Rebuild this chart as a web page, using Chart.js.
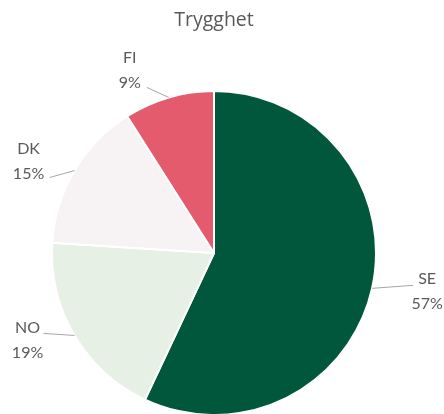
<!DOCTYPE html>
<html><head><meta charset="utf-8">
<script src="https://cdn.jsdelivr.net/npm/chart.js@4"></script>
<style>html,body{margin:0;padding:0;background:#fff}#wrap{width:444px;height:414px}</style>
</head><body><div id="wrap"><canvas id="c" width="444" height="414"></canvas></div>
<script>
const categories = ['SE', 'NO', 'DK', 'FI'];
const values = [57, 19, 15, 9];
const percentLabels = ['57%', '19%', '15%', '9%'];
const sliceColors = ['#00573b', '#e7f0e5', '#f7f2f4', '#e35b6d'];

// label placement relative to the arc mid point (styling, not data)
const labelOffsets = [
  {text: [55, -4], lead: [41, -3]},
  {text: [-47, -2], lead: [-31, -2]},
  {text: [-46, -17], lead: [-25, 7]},
  {text: [-39, -34], lead: [-22, -10]}
];

const outsideLabels = {
  id: 'outsideLabels',
  afterDatasetsDraw(chart) {
    const ctx = chart.ctx;
    const meta = chart.getDatasetMeta(0);
    ctx.save();
    meta.data.forEach((arc, i) => {
      const p = arc.getProps(['x', 'y', 'startAngle', 'endAngle', 'outerRadius'], true);
      const mid = (p.startAngle + p.endAngle) / 2;
      const px = p.x + Math.cos(mid) * p.outerRadius;
      const py = p.y + Math.sin(mid) * p.outerRadius;
      const o = labelOffsets[i];
      ctx.strokeStyle = '#a6a6a6';
      ctx.lineWidth = 1;
      ctx.beginPath();
      ctx.moveTo(px, py);
      ctx.lineTo(px + o.lead[0], py + o.lead[1]);
      ctx.stroke();
      ctx.fillStyle = '#595959';
      ctx.font = '16px Lato';
      ctx.textAlign = 'center';
      ctx.textBaseline = 'alphabetic';
      const tx = px + o.text[0], ty = py + o.text[1];
      ctx.fillText(chart.data.labels[i], tx, ty);
      ctx.fillText(percentLabels[i], tx, ty + 25);
    });
    ctx.restore();
  }
};

new Chart(document.getElementById('c'), {
  type: 'pie',
  data: {
    labels: categories,
    datasets: [{
      data: values,
      backgroundColor: sliceColors,
      borderColor: '#ffffff',
      borderWidth: 2,
      hoverOffset: 0
    }]
  },
  options: {
    responsive: false,
    animation: false,
    radius: 162,
    layout: {padding: {left: 0, right: 16, top: 0, bottom: 0}},
    plugins: {
      legend: {display: false},
      tooltip: {enabled: false},
      title: {
        display: true,
        text: 'Trygghet',
        color: '#595959',
        font: {family: 'Open Sans', size: 19.5, weight: 'normal'},
        padding: {top: 9, bottom: 59.6}
      }
    }
  },
  plugins: [outsideLabels]
});
</script>
</body></html>
